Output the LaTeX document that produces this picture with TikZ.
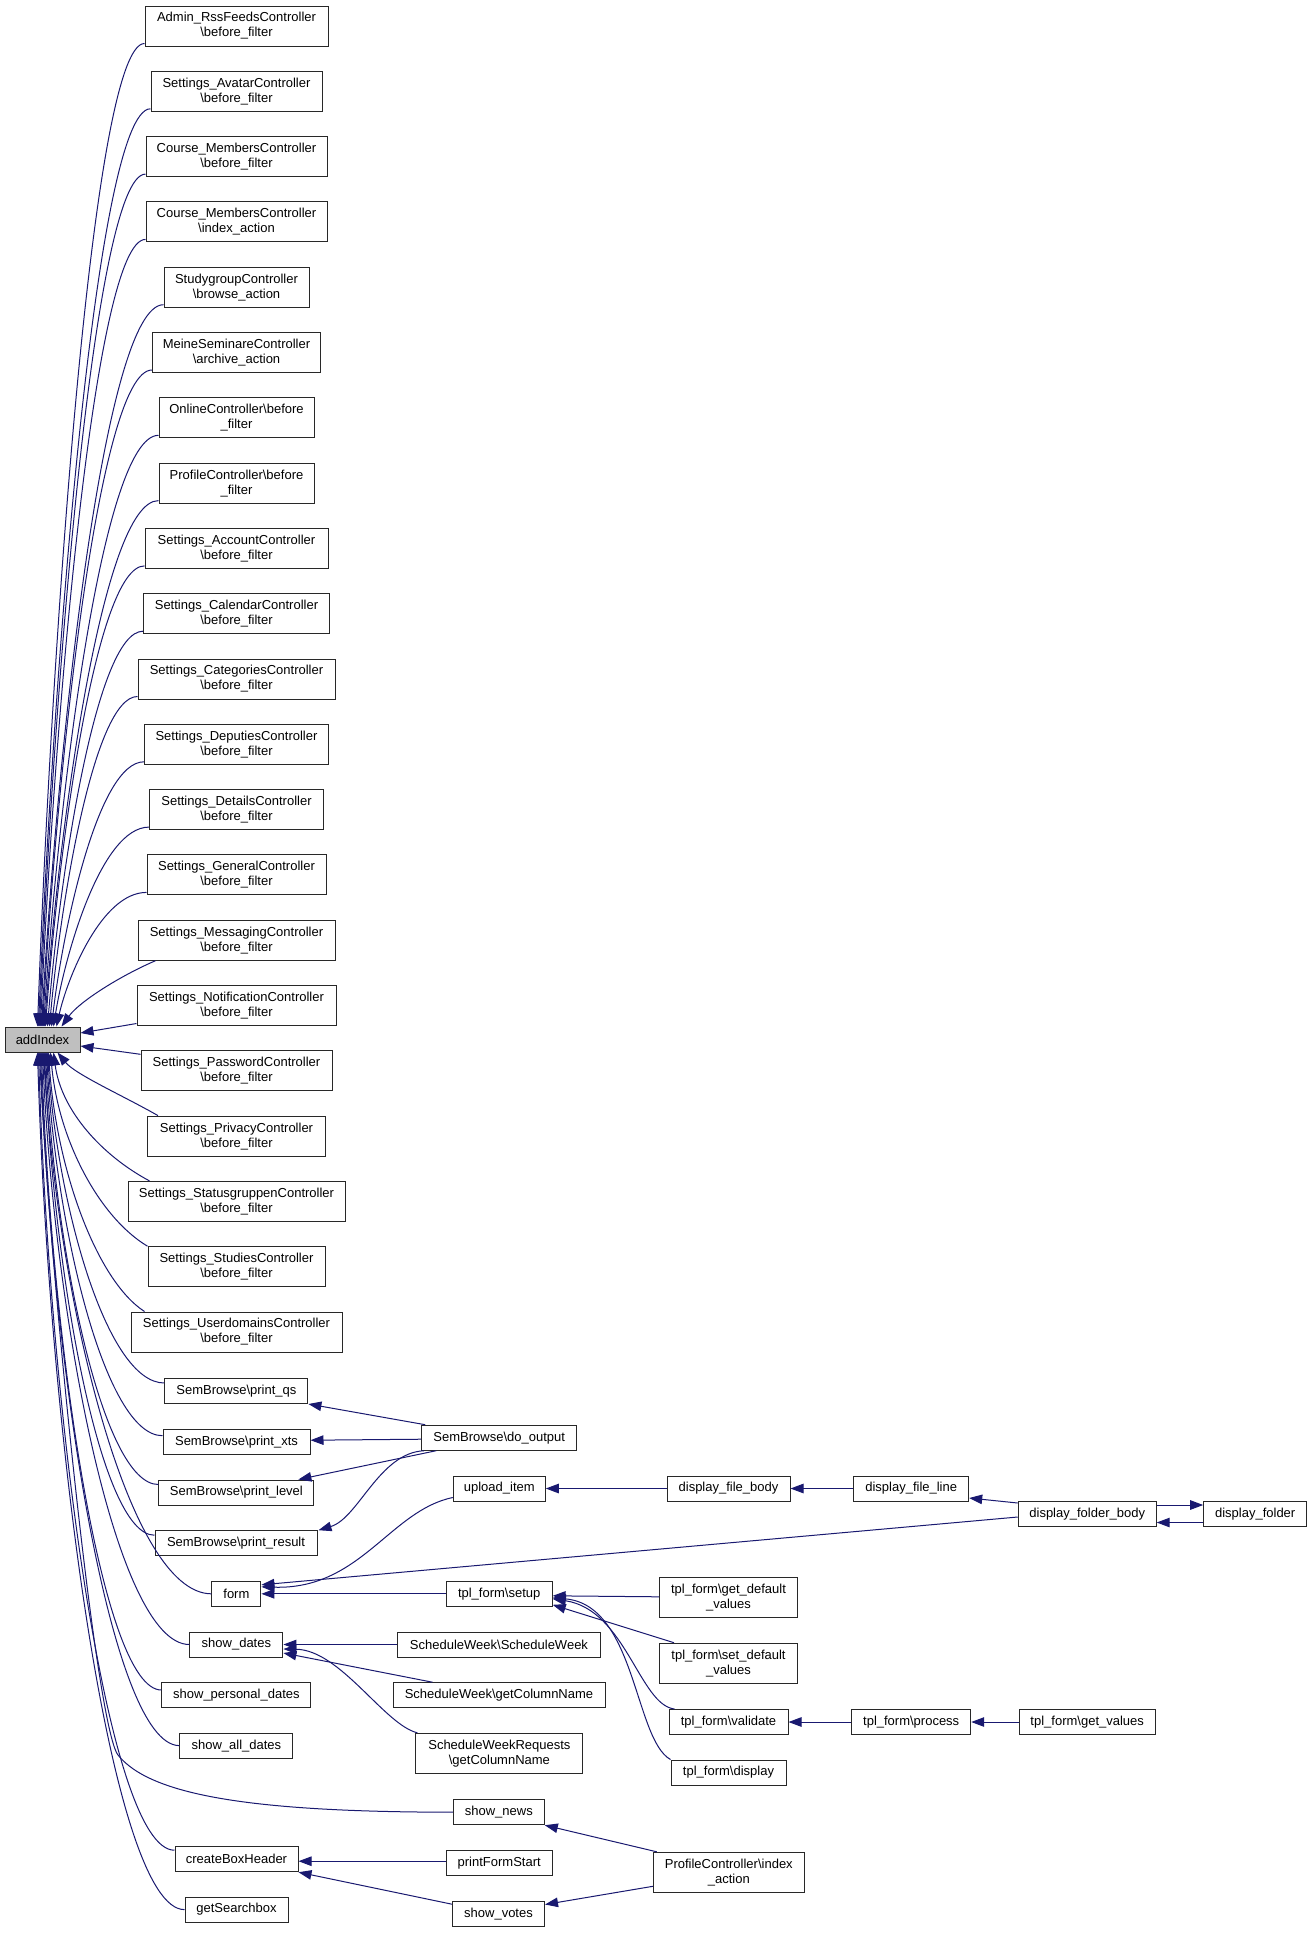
\documentclass[tikz,border=0pt]{standalone}
\usepackage{fontspec}
\setmainfont{Liberation Sans}
\usetikzlibrary{arrows.meta,calc}
\definecolor{edgeblue}{RGB}{25,25,112}
\definecolor{boxgray}{RGB}{191,191,191}
\definecolor{boxline}{RGB}{40,40,40}
\begin{document}
\begin{tikzpicture}[x=1pt,y=1pt,
  box/.style={draw=boxline, line width=1pt, fill=white, inner xsep=4pt, inner ysep=2pt,
    minimum height=25pt, align=center, font=\fontsize{13}{15}\selectfont},
  two/.style={box, minimum height=40pt},
  edge/.style={draw=edgeblue, line width=1pt, -{Triangle[length=13pt,width=9.5pt]}}]
\useasboundingbox (0,0) rectangle (1312,-1933);
\fill[white] (0,0) rectangle (1312,-1933);

% root
\node[box, fill=boxgray, minimum width=75pt] (add) at (42.5,-1039.5) {addIndex};

% left column
\node[two, minimum width=183pt] (b0) at (236.5,-26) {Admin\_RssFeedsController\\\textbackslash before\_filter};
\node[two, minimum width=171pt] (b1) at (236.5,-91.3) {Settings\_AvatarController\\\textbackslash before\_filter};
\node[two, minimum width=181pt] (b2) at (236.5,-156.6) {Course\_MembersController\\\textbackslash before\_filter};
\node[two, minimum width=181pt] (b3) at (236.5,-221.9) {Course\_MembersController\\\textbackslash index\_action};
\node[two, minimum width=145pt] (b4) at (236.5,-287.2) {StudygroupController\\\textbackslash browse\_action};
\node[two, minimum width=168pt] (b5) at (236.5,-352.5) {MeineSeminareController\\\textbackslash archive\_action};
\node[two, minimum width=155pt] (b6) at (236.5,-417.8) {OnlineController\textbackslash before\\\_filter};
\node[two, minimum width=155pt] (b7) at (236.5,-483.1) {ProfileController\textbackslash before\\\_filter};
\node[two, minimum width=183pt] (b8) at (236.5,-548.4) {Settings\_AccountController\\\textbackslash before\_filter};
\node[two, minimum width=186pt] (b9) at (236.5,-613.7) {Settings\_CalendarController\\\textbackslash before\_filter};
\node[two, minimum width=197pt] (b10) at (236.5,-679) {Settings\_CategoriesController\\\textbackslash before\_filter};
\node[two, minimum width=184pt] (b11) at (236.5,-744.3) {Settings\_DeputiesController\\\textbackslash before\_filter};
\node[two, minimum width=174pt] (b12) at (236.5,-809.6) {Settings\_DetailsController\\\textbackslash before\_filter};
\node[two, minimum width=179pt] (b13) at (236.5,-874.9) {Settings\_GeneralController\\\textbackslash before\_filter};
\node[two, minimum width=197pt] (b14) at (236.5,-940.2) {Settings\_MessagingController\\\textbackslash before\_filter};
\node[two, minimum width=199pt] (b15) at (236.5,-1005.5) {Settings\_NotificationController\\\textbackslash before\_filter};
\node[two, minimum width=191pt] (b16) at (236.5,-1070.8) {Settings\_PasswordController\\\textbackslash before\_filter};
\node[two, minimum width=178pt] (b17) at (236.5,-1136.1) {Settings\_PrivacyController\\\textbackslash before\_filter};
\node[two, minimum width=217pt] (b18) at (236.5,-1201.4) {Settings\_StatusgruppenController\\\textbackslash before\_filter};
\node[two, minimum width=177pt] (b19) at (236.5,-1266.7) {Settings\_StudiesController\\\textbackslash before\_filter};
\node[two, minimum width=211pt] (b20) at (236.5,-1332) {Settings\_UserdomainsController\\\textbackslash before\_filter};

% middle column
\node[box, minimum width=143pt] (pqs) at (236.4,-1391) {SemBrowse\textbackslash print\_qs};
\node[box, minimum width=147pt] (pxts) at (236.5,-1441.7) {SemBrowse\textbackslash print\_xts};
\node[box, minimum width=155pt] (plev) at (236.4,-1492.5) {SemBrowse\textbackslash print\_level};
\node[box, minimum width=162pt] (pres) at (236,-1543.2) {SemBrowse\textbackslash print\_result};
\node[box, minimum width=49pt] (form) at (236.4,-1593.8) {form};
\node[box, minimum width=93pt] (sdates) at (236.4,-1644.5) {show\_dates};
\node[box, minimum width=149pt] (spd) at (236.4,-1695) {show\_personal\_dates};
\node[box, minimum width=113pt] (sad) at (236.4,-1745.6) {show\_all\_dates};
\node[box, minimum width=123pt] (cbh) at (236.5,-1859.2) {createBoxHeader};
\node[box, minimum width=103pt] (gsb) at (236.5,-1909.6) {getSearchbox};

% third column
\node[box, minimum width=155pt] (dout) at (499.2,-1437.7) {SemBrowse\textbackslash do\_output};
\node[box, minimum width=92pt] (upl) at (499.3,-1488.5) {upload\_item};
\node[box, minimum width=106pt] (setup) at (499.2,-1593.8) {tpl\_form\textbackslash setup};
\node[box, minimum width=203pt] (sww) at (499,-1644.5) {ScheduleWeek\textbackslash ScheduleWeek};
\node[box, minimum width=212pt] (swg) at (499,-1695.2) {ScheduleWeek\textbackslash getColumnName};
\node[two, minimum width=167pt] (swr) at (499.4,-1753.3) {ScheduleWeekRequests\\\textbackslash getColumnName};
\node[box, minimum width=91pt] (news) at (498.8,-1812.2) {show\_news};
\node[box, minimum width=106pt] (pfs) at (499.2,-1863.2) {printFormStart};
\node[box, minimum width=92pt] (votes) at (498.5,-1914.2) {show\_votes};

% fourth column
\node[box, minimum width=123pt] (fbody) at (728.5,-1488.5) {display\_file\_body};
\node[two, minimum width=138pt] (gdef) at (728.5,-1597.8) {tpl\_form\textbackslash get\_default\\\_values};
\node[two, minimum width=138pt] (sdef) at (728.5,-1663.2) {tpl\_form\textbackslash set\_default\\\_values};
\node[box, minimum width=119pt] (valid) at (728.5,-1722) {tpl\_form\textbackslash validate};
\node[box, minimum width=115pt] (disp) at (728.5,-1772.5) {tpl\_form\textbackslash display};
\node[two, minimum width=151pt] (prof) at (728.8,-1872.3) {ProfileController\textbackslash index\\\_action};

% fifth column
\node[box, minimum width=115pt] (fline) at (911.2,-1488.5) {display\_file\_line};
\node[box, minimum width=119pt] (proc) at (911.2,-1722) {tpl\_form\textbackslash process};

% sixth column
\node[box, minimum width=138pt] (fold) at (1087.2,-1514) {display\_folder\_body};
\node[box, minimum width=136pt] (getv) at (1087.2,-1722) {tpl\_form\textbackslash get\_values};

% seventh column
\node[box, minimum width=103pt] (folder) at (1255.2,-1514) {display\_folder};

% ---------- edges into addIndex from above ----------
\foreach \nd/\ex in {b0/38,b1/39,b2/40,b3/41,b4/42,b5/43,b6/44,b7/45,b8/46,b9/48,b10/50,b11/52,b12/54,b13/57}{
  \coordinate (ss) at ($(\nd.south west)+(0,3)$);
  \coordinate (ee) at ($(add.north west)+(\ex-5,0)$);
  \draw[edge] let \p1=(ss), \p2=(ee) in
    (\p1) .. controls ({\x1-0.5*(\x1-\x2)},\y1) and ({\x2+0.12*(\x1-\x2)},{\y2+0.36*(\y1-\y2)}) .. (\p2);
}
\draw[edge] ($(b14.south west)+(18,0)$) .. controls +(-35,-15) and +(18,25) .. ($(add.north west)+(57,0)$);
\draw[edge] ($(b15.south west)+(0,2.5)$) -- ($(add.east)+(0,6.5)$);
\draw[edge] ($(b16.north west)+(0,-4)$) -- ($(add.east)+(0,-6.5)$);
\draw[edge] ($(b17.north west)+(11,0)$) .. controls +(-35,20) and +(18,-22) .. ($(add.south west)+(53,0)$);

% ---------- edges into addIndex from below ----------
\coordinate (s18) at ($(b18.north west)+(22,0)$);
\coordinate (s19) at ($(b19.north west)+(0,0)$);
\coordinate (s20) at ($(b20.north west)+(14,0)$);
\coordinate (spqs) at ($(pqs.north west)+(0,-5)$);
\coordinate (spxts) at ($(pxts.north west)+(0,-7)$);
\coordinate (splev) at ($(plev.north west)+(0,-5)$);
\coordinate (spres) at ($(pres.north west)+(0,-5)$);
\coordinate (sform) at (form.west);
\coordinate (ssdates) at (sdates.west);
\coordinate (sspd) at ($(spd.north west)+(0,-8)$);
\coordinate (ssad) at (sad.west);
\coordinate (scbh) at ($(cbh.north west)+(0,-4)$);
\coordinate (sgsb) at (gsb.west);
\foreach \st/\ex/\cc in {s18/54/0.2,s19/51/0.15,s20/49/0.12,spqs/48/0,spxts/47/0,splev/46/0,spres/45/0,sform/44/0,ssdates/43/0,sspd/42/0,ssad/41/0,scbh/39/0,sgsb/38/0}{
  \coordinate (ee) at ($(add.south west)+(\ex-5,0)$);
  \draw[edge] let \p1=(\st), \p2=(ee) in
    (\p1) .. controls ({\x1-0.5*(\x1-\x2)},{\y1+\cc*(\y2-\y1)}) and ({\x2+0.08*(\x1-\x2)},{\y2-0.45*(\y2-\y1)}) .. (\p2);
}
\coordinate (newsbend) at (118,-1755);
\draw[edge] (news.west) .. controls (250,-1812) and (150,-1795) .. (newsbend)
  .. controls (95,-1725) and (48,-1250) .. ($(add.south west)+(35,0)$);

% ---------- other edges ----------
\draw[edge] ($(dout.north west)+(4,0)$) -- (pqs.south east);
\draw[edge] ($(dout.west)+(0,-1.5)$) -- ($(pxts.east)+(0,1.5)$);
\draw[edge] ($(dout.south west)+(15,0)$) -- ($(plev.north east)+(-16,0)$);
\draw[edge] ($(dout.south west)+(3,0)$) .. controls +(-45,-2) and +(40,12) .. ($(pres.north east)+(1,0)$);
\draw[edge] ($(upl.south west)+(0,4)$) .. controls +(-63,-13) and +(99,-3) .. ($(form.east)+(0,7)$);
\draw[edge] ($(fold.west)+(0,-3)$) -- ($(form.east)+(0,9)$);
\draw[edge] (setup.west) -- (form.east);
\draw[edge] (fbody.west) -- (upl.east);
\draw[edge] (fline.west) -- (fbody.east);
\draw[edge] ($(fold.west)+(0,11)$) -- ($(fline.east)+(0,-9.5)$);
\draw[edge] ($(fold.east)+(0,9)$) -- ($(folder.west)+(0,9)$);
\draw[edge] ($(folder.west)+(0,-8.5)$) -- ($(fold.east)+(0,-8.5)$);
\draw[edge] ($(gdef.west)+(0,1)$) -- ($(setup.east)+(0,-2)$);
\draw[edge] ($(sdef.north west)+(15,0)$) -- ($(setup.east)+(0,-11)$);
\draw[edge] ($(valid.north west)+(6,0)$) .. controls +(-35,4) and +(73,-11) .. ($(setup.east)+(0,-5)$);
\draw[edge] (disp.north west) .. controls +(-36,20) and +(83,-7) .. ($(setup.east)+(0,-4)$);
\draw[edge] (proc.west) -- (valid.east);
\draw[edge] (getv.west) -- (proc.east);
\draw[edge] (sww.west) -- (sdates.east);
\draw[edge] ($(swg.north west)+(40,0)$) -- ($(sdates.east)+(0,-8.5)$);
\draw[edge] ($(swr.north west)+(2,0)$) .. controls +(-33,8) and +(57,-1) .. ($(sdates.east)+(0,-4.5)$);
\draw[edge] ($(prof.north west)+(4,0)$) -- (news.south east);
\draw[edge] ($(prof.west)+(0,-14)$) -- ($(votes.north east)+(0,-3.3)$);
\draw[edge] ($(votes.north west)+(0,-3)$) -- (cbh.south east);
\draw[edge] ($(pfs.west)+(0,2)$) -- ($(cbh.east)+(0,-2)$);
\end{tikzpicture}
\end{document}
